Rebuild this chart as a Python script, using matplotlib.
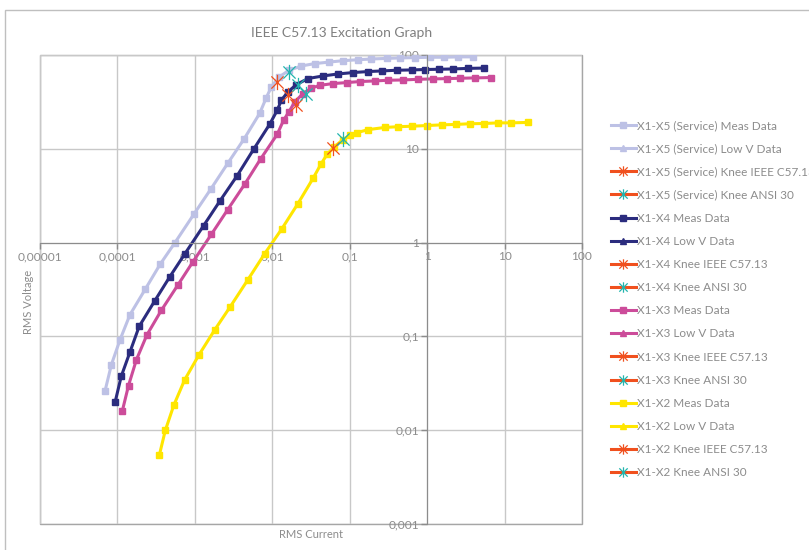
import matplotlib
matplotlib.use("Agg")
import matplotlib.pyplot as plt
from matplotlib.path import Path
from matplotlib.patches import Rectangle

# excitation data: rms current (A) vs rms voltage (V)
x5_i = [6.93e-5, 8.36e-5, 1.08e-4, 1.45e-4, 2.29e-4, 3.57e-4, 5.54e-4, 9.76e-4, 1.6e-3, 2.66e-3,
        4.34e-3, 6.86e-3, 8.3e-3, 9.7e-3, 0.0122, 0.0164, 0.0238, 0.0353, 0.054, 0.082,
        0.128, 0.191, 0.30, 0.446, 0.70, 1.09, 1.66, 2.53, 3.96]
x5_v = [0.0264, 0.050, 0.092, 0.170, 0.319, 0.589, 1.0, 2.02, 3.70, 7.0,
        12.8, 23.8, 34.5, 45.6, 58, 68.7, 76.4, 81, 84, 87,
        89, 90.7, 92, 93, 93.8, 94.6, 94.6, 95.5, 95.5]

x4_i = [9.34e-5, 1.12e-4, 1.45e-4, 1.91e-4, 3.05e-4, 4.77e-4, 7.38e-4, 1.3e-3, 2.12e-3, 3.52e-3,
        5.73e-3, 9.23e-3, 0.0116, 0.0131, 0.0159, 0.0205, 0.0289, 0.0452, 0.0708, 0.111,
        0.173, 0.258, 0.404, 0.63, 0.94, 1.44, 2.18, 3.36, 5.35]
x4_v = [0.020, 0.0375, 0.068, 0.128, 0.241, 0.435, 0.753, 1.52, 2.80, 5.17,
        9.86, 18.2, 25.8, 33, 40.4, 48.4, 56.1, 59.8, 62.8, 65,
        66.6, 67.6, 68.8, 69.3, 70, 70.5, 71, 72, 72.5]

x3_i = [1.16e-4, 1.39e-4, 1.76e-4, 2.40e-4, 3.68e-4, 5.98e-4, 9.37e-4, 1.64e-3, 2.64e-3, 4.42e-3,
        7.05e-3, 0.0116, 0.014, 0.0164, 0.0195, 0.0249, 0.032, 0.0419, 0.061, 0.091,
        0.135, 0.211, 0.314, 0.492, 0.77, 1.2, 1.79, 2.67, 4.18, 6.67]
x3_v = [0.0162, 0.0299, 0.0565, 0.1035, 0.189, 0.349, 0.618, 1.23, 2.23, 4.21,
        7.77, 14.3, 20.2, 24.8, 31.6, 38.8, 44.5, 47.6, 49.6, 50.8,
        52.1, 52.9, 53.8, 54.2, 55.1, 55.6, 56, 56.5, 57, 57.5]

x2_i = [3.47e-4, 4.15e-4, 5.35e-4, 7.38e-4, 1.12e-3, 1.80e-3, 2.84e-3, 4.83e-3, 7.95e-3, 0.0132,
        0.0213, 0.0336, 0.0423, 0.0510, 0.0622, 0.0807, 0.100, 0.125, 0.173, 0.285,
        0.424, 0.632, 0.989, 1.55, 2.37, 3.59, 5.46, 8.12, 12.2, 19.9]
x2_v = [0.00538, 0.00993, 0.0185, 0.0344, 0.0628, 0.117, 0.205, 0.401, 0.759, 1.39,
        2.58, 4.84, 6.82, 8.72, 10.4, 12.4, 14.0, 14.9, 16.0, 16.9,
        17.2, 17.4, 17.7, 18.0, 18.2, 18.5, 18.6, 18.9, 18.9, 19.1]

# knee points per winding, order X1-X5, X1-X4, X1-X3, X1-X2
windings = ["X1-X5 (Service)", "X1-X4", "X1-X3", "X1-X2"]
ieee_i = [0.0114, 0.0159, 0.020, 0.061]
ieee_v = [51, 37.9, 29.2, 10.1]
ansi_i = [0.0164, 0.0215, 0.0275, 0.0822]
ansi_v = [65.9, 48.4, 38.8, 12.6]

x_ticks = [1e-5, 1e-4, 1e-3, 1e-2, 1e-1, 1, 10, 100]
x_labels = ["0,00001", "0,0001", "0,001", "0,01", "0,1", "1", "10", "100"]
y_ticks = [1e-3, 1e-2, 1e-1, 1, 10, 100]
y_labels = ["0,001", "0,01", "0,1", "1", "10", "100"]

colors = ["#BDC1E5", "#2B2C7E", "#CC4C9A", "#FFE600"]
meas = [(x5_i, x5_v), (x4_i, x4_v), (x3_i, x3_v), (x2_i, x2_v)]
orange = "#F0501E"
teal = "#22B5AE"
grey_txt = "#8C8C8C"

plt.rcParams["font.family"] = ["Lato", "DejaVu Sans"]

star = Path([(-1, -1), (1, 1), (-1, 1), (1, -1), (0, -1.25), (0, 1.25)],
            [Path.MOVETO, Path.LINETO, Path.MOVETO, Path.LINETO, Path.MOVETO, Path.LINETO])

fig = plt.figure(figsize=(8.09, 5.5), dpi=100)
ax = fig.add_axes([40 / 809, 1 - 524 / 550, 542 / 809, 469 / 550])

for k, name in enumerate(windings):
    xi, yv = meas[k]
    ax.plot(xi, yv, color=colors[k], lw=2.2, marker="s", ms=4.6,
            label=name + " Meas Data")
    ax.plot([], [], color=colors[k], lw=2.2, marker="^", ms=4.6,
            label=name + " Low V Data")
    ax.plot([ieee_i[k]], [ieee_v[k]], color=orange, lw=2.2, marker=star, ms=11,
            mec=orange, mew=0.9, label=name + " Knee IEEE C57.13", zorder=5)
    ax.plot([ansi_i[k]], [ansi_v[k]], color=orange, lw=2.2, marker=star, ms=11,
            mec=teal, mew=0.9, label=name + " Knee ANSI 30", zorder=5)

ax.set_xscale("log")
ax.set_yscale("log")
ax.set_xlim(1e-5, 100)
ax.set_ylim(1e-3, 100)
ax.set_xticks(x_ticks)
ax.set_xticklabels(x_labels)
ax.set_yticks(y_ticks)
ax.set_yticklabels(y_labels)
ax.minorticks_off()
ax.grid(True, color="#C8C8C8", lw=1)
ax.set_axisbelow(True)

for s in ["top", "right"]:
    ax.spines[s].set_visible(False)
ax.spines["left"].set_position(("data", 1))
ax.spines["bottom"].set_position(("data", 1))
ax.spines["left"].set_color("#8C8C8C")
ax.spines["bottom"].set_color("#8C8C8C")
ax.tick_params(colors="#8C8C8C", labelcolor=grey_txt, labelsize=8.6, length=4, width=1, pad=2)
ax.add_patch(Rectangle((0, 0), 1, 1, transform=ax.transAxes, fill=False,
                       ec="#A6A6A6", lw=1, zorder=0.5, clip_on=False))

fig.text(311 / 809, 1 - 535 / 550, "RMS Current", ha="center", va="center",
         fontsize=8, color=grey_txt)
fig.text(28 / 809, 1 - 302 / 550, "RMS Voltage", ha="center", va="center",
         rotation=90, fontsize=8, color=grey_txt)
fig.text(342 / 809, 1 - 33 / 550, "IEEE C57.13 Excitation Graph", ha="center",
         va="center", fontsize=10, color="#7F7F7F")

# chart outer frame (cut off at right and bottom)
fig.patches.append(Rectangle((5 / 809, -0.2), 1.2, 1.2 - 10 / 550, transform=fig.transFigure,
                             fill=False, ec="#BFBFBF", lw=1))

leg = ax.legend(loc="upper left", bbox_to_anchor=(611 / 809, 1 - 120 / 550),
                bbox_transform=fig.transFigure, frameon=False, fontsize=8.5,
                labelcolor=grey_txt, handlelength=2.1, handletextpad=0.1,
                labelspacing=1.03, borderpad=0, borderaxespad=0)
# knee stars are drawn smaller in the legend than on the plot
for h, t in zip(leg.legend_handles, leg.get_texts()):
    if "Knee" in t.get_text():
        h.set_markersize(7.5)

fig.savefig("out.png", dpi=100)
